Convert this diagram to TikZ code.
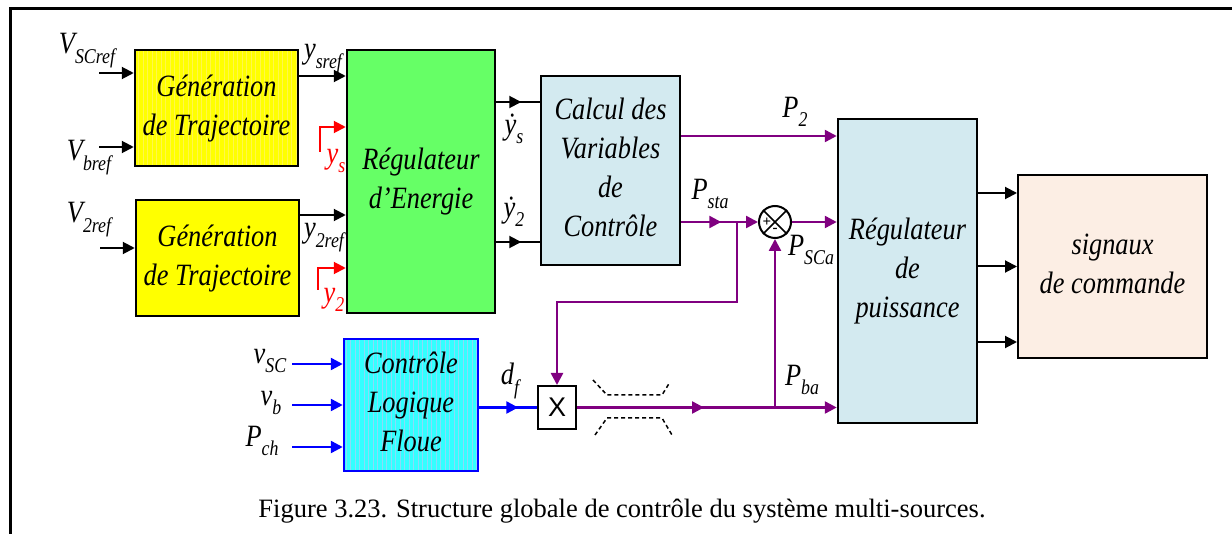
\documentclass[tikz,border=0pt]{standalone}
\usepackage{fontspec}
\usepackage{graphicx}
\setmainfont{Liberation Serif}
\newfontfamily\multfont{Liberation Sans}
\usetikzlibrary{arrows.meta,positioning,decorations.markings}
\definecolor{genyellow}{HTML}{FFFF00}
\definecolor{nrjgreen}{HTML}{66FF66}
\definecolor{calcblue}{HTML}{D3EAF0}
\definecolor{flouecyan}{HTML}{33FFFF}
\definecolor{sigpeach}{HTML}{FCEEE4}
\definecolor{pwrpurple}{HTML}{800080}
\definecolor{sigblue}{HTML}{0000FF}
\newcommand{\sub}[1]{\raisebox{-0.3em}{\fontsize{21}{21}\selectfont #1}}
\newcommand{\cond}[1]{\scalebox{0.85}[1]{\begin{tabular}{@{}c@{}}#1\end{tabular}}}

\begin{document}
\begin{tikzpicture}[
  x=1pt,y=-1pt,
  >={Triangle[length=12pt,width=12pt]},
  line/.style={line width=2pt,draw=black},
  pline/.style={line width=2.5pt,draw=pwrpurple,color=pwrpurple},
  bline/.style={line width=2.5pt,draw=sigblue,color=sigblue},
  rline/.style={line width=2pt,draw=red,color=red},
  midarrow/.style={postaction={decorate},decoration={markings,
    mark=at position #1 with {\arrow{>}}}},
  block/.style={draw,line width=2.5pt,align=center,inner sep=0pt,
    font={\fontsize{31}{39}\selectfont\itshape}},
  gridded/.style={path picture={\draw[#1,line width=0.4pt]
    (path picture bounding box.south west) grid[step=4.5]
    (path picture bounding box.north east);}},
  lab/.style={inner sep=0pt,font={\fontsize{31}{31}\selectfont\itshape}}
]
\useasboundingbox (0,0) rectangle (1232,534);
\draw[line width=3pt] (10,534) -- (10,9) -- (1232,9);

% blocks
\node[block,fill=genyellow,gridded=yellow!70!white,
  minimum width=163pt,minimum height=116pt] (gen1) at (216.5,108)
  {\cond{Génération\\de Trajectoire}};
\node[block,fill=genyellow,minimum width=163pt,minimum height=116pt]
  (gen2) at (217.5,258) {\cond{Génération\\de Trajectoire}};
\node[block,fill=nrjgreen,minimum width=148pt,minimum height=263pt]
  (regE) at (421,181.5) {\cond{Régulateur\\d’Energie}};
\node[block,fill=calcblue,minimum width=139pt,minimum height=189pt]
  (calc) at (610.5,170.5) {\cond{Calcul des\\Variables\\de\\Contrôle}};
\node[block,fill=calcblue,minimum width=139pt,minimum height=304pt]
  (regP) at (907.5,271) {\cond{Régulateur\\de\\puissance}};
\node[block,fill=sigpeach,line width=2pt,minimum width=189pt,
  minimum height=183pt] (cmd) at (1112.5,266.5) {\cond{signaux\\de commande}};
\node[block,draw=sigblue,fill=flouecyan,gridded=cyan!45!white,
  minimum width=134pt,minimum height=132pt] (clf) at (411,405)
  {\cond{Contrôle\\Logique\\Floue}};
\node[draw,line width=2pt,fill=white,inner sep=0pt,minimum width=38pt,
  minimum height=43pt,font={\fontsize{27}{27}\multfont}] (mult)
  at (557,407.5) {X};
\node[circle,draw,line width=2pt,fill=white,minimum size=32pt,
  inner sep=0pt] (sum) at (775,222) {};
\draw[line width=1.5pt] (sum.north west) -- (sum.south east)
  (sum.north east) -- (sum.south west);
\node[inner sep=0pt,font={\fontsize{15}{15}\selectfont\bfseries}]
  (plus) at ([xshift=-8pt]sum.center) {+};
\node[inner sep=0pt,font={\fontsize{15}{15}\selectfont\bfseries}]
  (minus) at ([yshift=-8pt]sum.center) {-};

% inputs of the trajectory generators
\coordinate (vsc) at (99,73);
\coordinate (vb) at (99,147);
\coordinate (v2) at (100,248);
\draw[line,->] (vsc) -- (vsc -| gen1.west);
\draw[line,->] (vb) -- (vb -| gen1.west);
\draw[line,->] (v2) -- (v2 -| gen2.west);
\node[lab] (lvsc) at (87,50) {\cond{V\sub{SCref}}};
\node[lab] (lvb) at (89,157) {\cond{V\sub{bref}}};
\node[lab] (lv2) at (89,219) {\cond{V\sub{2ref}}};

% references and measures to the energy regulator
\coordinate (ysref) at ([yshift=32pt]gen1.east);
\coordinate (y2ref) at ([yshift=43pt]gen2.east);
\draw[line,->] (ysref) -- (ysref -| regE.west);
\draw[line,->] (y2ref) -- (y2ref -| regE.west);
\node[lab] (lysref) at (323,55) {\cond{y\sub{sref}}};
\node[lab] (ly2ref) at (324,234) {\cond{y\sub{2ref}}};
\coordinate (ysm) at (320,127);
\coordinate (y2m) at (318,268);
\draw[rline,->] ([yshift=-25pt]ysm) -- (ysm) -- (ysm -| regE.west);
\draw[rline,->] ([yshift=-22pt]y2m) -- (y2m) -- (y2m -| regE.west);
\node[lab,red] (lys) at (336,157) {\cond{y\sub{s}}};
\node[lab,red] (ly2) at (334,296) {\cond{y\sub{2}}};

% energy regulator to control variables
\coordinate (ysd) at ([yshift=79.5pt]regE.east);
\coordinate (y2d) at ([yshift=-60.5pt]regE.east);
\draw[line,midarrow=25pt] (ysd) -- (ysd -| calc.west);
\draw[line,midarrow=25pt] (y2d) -- (y2d -| calc.west);
\node[lab] (lysd) at (514,128) {\cond{\.{y}\sub{s}}};
\node[lab] (ly2d) at (514,211) {\cond{\.{y}\sub{2}}};

% power references
\coordinate (p2) at ([yshift=34.5pt]calc.east);
\coordinate (psta) at ([yshift=-51.5pt]calc.east);
\coordinate (fork) at (737,222);
\draw[pline,->] (p2) -- (p2 -| regP.west);
\draw[pline,->,midarrow=40pt] (psta) -- (sum.west);
\draw[pline,->] (fork) -- ++(0,80) -| (mult.north);
\draw[pline,->] (sum.east) -- (sum.east -| regP.west);
\draw[pline,->,midarrow=127pt] (mult.east) -- (mult.east -| regP.west);
\coordinate (pbafork) at (sum.south |- mult.east);
\draw[pline,->] (pbafork) -- (sum.south);
\node[lab] (lp2) at (795,111) {\cond{P\sub{2}}};
\node[lab] (lpsta) at (710,193) {\cond{P\sub{sta}}};
\node[lab] (lpsca) at (811,249) {\cond{P\sub{SCa}}};
\node[lab] (lpba) at (802,379) {\cond{P\sub{ba}}};

% limiter marks
\draw[line width=1.5pt,dash pattern=on 4pt off 3pt]
  (593,380) -- (607,395) -- (662,395) -- (670,382);
\draw[line width=1.5pt,dash pattern=on 4pt off 3pt]
  (595,435) -- (607,418) -- (662,418) -- (672,435);

% fuzzy logic controller
\coordinate (vsc2) at (292,364);
\coordinate (vb2) at (292,405);
\coordinate (pch) at (292,447);
\draw[bline,->] (vsc2) -- (vsc2 -| clf.west);
\draw[bline,->] (vb2) -- (vb2 -| clf.west);
\draw[bline,->] (pch) -- (pch -| clf.west);
\node[lab] (lvsc2) at (270,357) {\cond{v\sub{SC}}};
\node[lab] (lvb2) at (271,399) {\cond{v\sub{b}}};
\node[lab] (lpch) at (262,440) {\cond{P\sub{ch}}};
\draw[bline,midarrow=39pt] (clf.east |- mult.west) -- (mult.west);
\node[lab] (ldf) at (510,381) {\cond{d\sub{f}}};

% control signals
\foreach \dy in {73.5,0,-75.5}{
  \path ([yshift=\dy pt]cmd.west) coordinate (out);
  \draw[line,->] (out -| regP.east) -- (out);
}

\node[inner sep=0pt,font={\fontsize{26.5}{26.5}\selectfont}] (caption)
  at (622,511) {Figure 3.23. Structure globale de contrôle du système multi-sources.};
\end{tikzpicture}
\end{document}
